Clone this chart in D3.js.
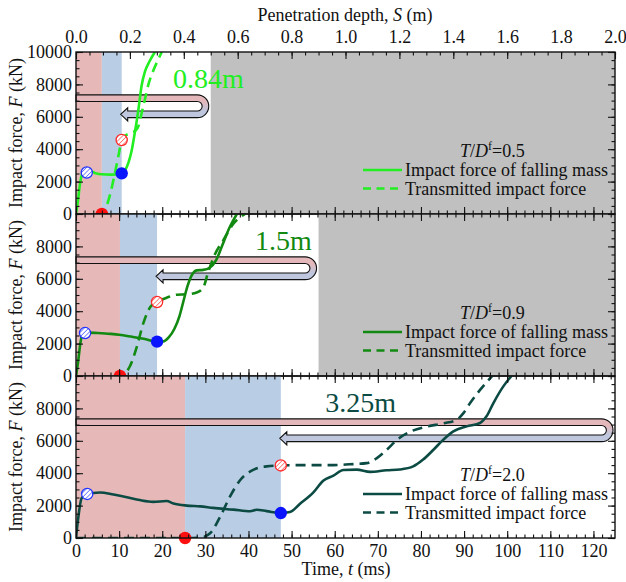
<!DOCTYPE html>
<html>
<head>
<meta charset="utf-8">
<script src="https://cdn.jsdelivr.net/npm/d3@7"></script>
<style>
  html, body { margin: 0; padding: 0; background: #fff; }
  svg { display: block; }
</style>
</head>
<body>
<svg id="chart" width="626" height="582"></svg>
<script>
// ---- data -------------------------------------------------------------
const ratioLabels = ["0.5", "0.9", "2.0"];          // T/D^f of each panel
const depthLabels = ["0.84m", "1.5m", "3.25m"];      // annotated penetration
const thickness = [0.5, 0.9, 2.0];                   // grey zone starts at S = T (m)
const redEnd = [6.0, 10.2, 25.3];                    // end of first phase (ms)
const blueEnd = [10.6, 18.8, 47.5];                  // end of second phase (ms)
const lineColors = ["#22ee22", "#128a12", "#0c4b43"];

const timeTicks = [0, 10, 20, 30, 40, 50, 60, 70, 80, 90, 100, 110, 120];
const depthTicks = [0.0, 0.2, 0.4, 0.6, 0.8, 1.0, 1.2, 1.4, 1.6, 1.8, 2.0];
const forceTicks = [0, 2000, 4000, 6000, 8000, 10000];

// impact force of falling mass, [t (ms), F (kN)]
const impact1 = [[0,0],[0.4,700],[0.9,1800],[1.4,2450],[2.2,2600],[3.2,2650],[4.5,2520],[6,2450],[8,2430],[9.5,2440],[10.6,2510],[11.4,2700],[12.2,3200],[12.9,3900],[13.5,4800],[14.0,5600],[14.5,6500],[15.2,7900],[16.0,8800],[17.0,9400],[18.3,10000]];
const impact2 = [[0,0],[0.5,900],[1.0,2000],[1.5,2600],[2.5,2680],[5,2650],[8,2600],[10,2550],[13,2420],[16,2280],[18.8,2120],[20.2,2130],[21.5,2380],[22.8,2900],[24,3700],[24.9,4600],[25.8,5500],[26.8,6200],[28,6520],[29.5,6550],[31,6680],[32.5,7150],[33.8,7980],[35.5,9100],[37.3,10000]];
const impact3 = [[0,0],[0.5,1200],[1.3,2460],[2.5,2680],[4,2780],[5.6,2810],[8.7,2680],[11.8,2520],[14.8,2340],[17.9,2230],[21,2280],[22.6,2130],[25.7,2000],[28.8,1950],[31.8,1860],[36.5,1750],[40.4,1650],[41.9,1740],[44.2,1660],[47.5,1540],[49.6,1600],[51.9,2100],[55,2800],[57.4,3550],[59.7,3850],[62,4200],[65.1,4220],[68.2,4080],[72,4180],[75.1,4230],[78.2,4420],[80.5,4840],[82.9,5450],[85.2,6070],[87.5,6580],[90.6,6890],[93.7,7100],[95.2,7510],[96.8,8330],[99.1,9360],[101,10000]];

// transmitted impact force, [t (ms), F (kN)]
const trans1 = [[5.0,0],[6.0,0],[6.8,300],[8.0,1300],[9.0,2500],[10.0,3800],[10.6,4570],[11.5,4850],[12.7,5000],[14.0,5200],[14.5,5450],[15.2,6200],[16.0,7100],[16.8,8000],[18.0,8900],[19.0,9500],[19.9,10000]];
const trans2 = [[8.8,0],[10.2,0],[11.3,150],[12.5,600],[14.1,1800],[15.6,3250],[17.2,4250],[18.8,4570],[21,4830],[23.4,5020],[25.7,5040],[28,5150],[29.5,5450],[30.7,6450],[32.2,7500],[34.2,8400],[36.5,9400],[39.2,10000]];
const trans3 = [[0,0],[10,0],[20,0],[25.7,0],[28.8,20],[31.1,290],[33.4,1300],[35.7,2550],[38,3550],[41.1,4200],[44.2,4420],[47.5,4480],[51.9,4500],[59.7,4500],[63.5,4550],[67.4,4620],[69.7,4920],[72,5430],[74.4,6050],[77.5,6560],[81.3,6870],[85.2,7080],[88.3,7300],[89.8,7690],[91.4,8330],[93.7,9140],[96.5,10000]];

// first peak of the impact force (open hatched blue marker)
const peaks = [[2.5, 2560], [2.1, 2650], [2.6, 2720]];
// transmitted force at end of second phase (hatched red marker)
const transAtBlue = [4570, 4570, 4480];
// impact force at end of second phase (filled blue marker)
const impactAtBlue = [2510, 2120, 1540];

const impacts = [impact1, impact2, impact3];
const transmitted = [trans1, trans2, trans3];

// ---- layout -----------------------------------------------------------
const svg = d3.select("#chart");
const left = 76, right = 615, top0 = 52, panelH = 162;
const FONT = 18;
const SERIF = "'Liberation Serif', 'Times New Roman', serif";

const x = d3.scaleLinear().domain([0, 125]).range([left, right]);
const xs = d3.scaleLinear().domain([0, 2.0]).range([left, right]);
// where each depth annotation starts (time, force)
const depthLabelAt = [[22.5, 7780], [41.5, 7780], [57.8, 7780]];

const defs = svg.append("defs");

function hatch(id, color) {
  const p = defs.append("pattern").attr("id", id)
    .attr("patternUnits", "userSpaceOnUse").attr("width", 3.2).attr("height", 3.2)
    .attr("patternTransform", "rotate(45)");
  p.append("rect").attr("width", 3.2).attr("height", 3.2).attr("fill", "#fff");
  p.append("line").attr("x1", 0).attr("y1", 0).attr("x2", 0).attr("y2", 3.2)
    .attr("stroke", color).attr("stroke-width", 1.1);
}
hatch("hatchBlue", "#2233ff");
hatch("hatchRed", "#ff2a2a");

const line = d3.line().x(d => x(d[0])).curve(d3.curveMonotoneX);

function label(sel, size) {
  return sel.append("text").style("font-family", SERIF).style("font-size", (size || FONT) + "px")
    .attr("fill", "#111");
}

ratioLabels.forEach((ratio, i) => {
  const pTop = top0 + i * panelH, pBot = pTop + panelH;
  const y = d3.scaleLinear().domain([0, 10000]).range([pBot, pTop]);
  line.y(d => y(d[1]));
  const col = lineColors[i];
  const g = svg.append("g");

  defs.append("clipPath").attr("id", "clip" + i)
    .append("rect").attr("x", left).attr("y", pTop).attr("width", right - left).attr("height", panelH);

  // phase backgrounds
  g.append("rect").attr("x", x(0)).attr("y", pTop).attr("width", x(redEnd[i]) - x(0)).attr("height", panelH).attr("fill", "#e6b9b8");
  g.append("rect").attr("x", x(redEnd[i])).attr("y", pTop).attr("width", x(blueEnd[i]) - x(redEnd[i])).attr("height", panelH).attr("fill", "#b9cde4");
  if (thickness[i] < 2.0) {
    g.append("rect").attr("x", xs(thickness[i])).attr("y", pTop).attr("width", right - xs(thickness[i])).attr("height", panelH).attr("fill", "#c0c0c0");
  }

  // U-shaped penetration arrow
  const gradId = "tube" + i;
  const yU = y(7150), yL = y(6150), h = 3.3;
  const r = (yL - yU) / 2, cy = (yU + yL) / 2;
  const xTurn = xs(thickness[i]) - 2;
  const cx = xTurn - (r + h);
  const xTip = x(blueEnd[i]) - 1, hl = 7, hh = 6.5;
  const grad = defs.append("linearGradient").attr("id", gradId)
    .attr("gradientUnits", "userSpaceOnUse").attr("x1", 0).attr("x2", 0)
    .attr("y1", yU - h).attr("y2", yL + h);
  grad.append("stop").attr("offset", 0).attr("stop-color", "#e4b7ba");
  grad.append("stop").attr("offset", 0.28).attr("stop-color", "#e4b7ba");
  grad.append("stop").attr("offset", 0.72).attr("stop-color", "#bec7dd");
  grad.append("stop").attr("offset", 1).attr("stop-color", "#bec7dd");
  const tube = d3.path();
  tube.moveTo(left, yU - h);
  tube.lineTo(cx, yU - h);
  tube.arc(cx, cy, r + h, -Math.PI / 2, Math.PI / 2, false);
  tube.lineTo(xTip + hl, yL + h);
  tube.lineTo(xTip + hl, yL + hh);
  tube.lineTo(xTip, yL);
  tube.lineTo(xTip + hl, yL - hh);
  tube.lineTo(xTip + hl, yL - h);
  tube.lineTo(cx, yL - h);
  tube.arc(cx, cy, r - h, Math.PI / 2, -Math.PI / 2, true);
  tube.lineTo(left, yU + h);
  tube.closePath();
  g.append("path").attr("d", tube.toString()).attr("fill", `url(#${gradId})`)
    .attr("stroke", "#111").attr("stroke-width", 1.1);

  // curves
  const cg = g.append("g").attr("clip-path", `url(#clip${i})`);
  cg.append("path").attr("d", line(impacts[i])).attr("fill", "none")
    .attr("stroke", col).attr("stroke-width", 2.6).attr("stroke-linejoin", "round");
  cg.append("path").attr("d", line(transmitted[i])).attr("fill", "none")
    .attr("stroke", col).attr("stroke-width", 2.6).attr("stroke-dasharray", "10,6");

  // depth label
  label(g, 28).attr("x", x(depthLabelAt[i][0])).attr("y", y(depthLabelAt[i][1]))
    .attr("fill", col).text(depthLabels[i]);

  // markers
  g.append("circle").attr("cx", x(peaks[i][0])).attr("cy", y(peaks[i][1])).attr("r", 5.6)
    .attr("fill", "url(#hatchBlue)").attr("stroke", "#2233ff").attr("stroke-width", 1.3);
  g.append("circle").attr("cx", x(blueEnd[i])).attr("cy", y(transAtBlue[i])).attr("r", 5.6)
    .attr("fill", "url(#hatchRed)").attr("stroke", "#ff2a2a").attr("stroke-width", 1.3);
  g.append("circle").attr("cx", x(blueEnd[i])).attr("cy", y(impactAtBlue[i])).attr("r", 6.2)
    .attr("fill", "#0a14ff");
  g.append("circle").attr("cx", x(redEnd[i])).attr("cy", y(0)).attr("r", 6.2)
    .attr("fill", "#ff1010");

  // legend
  const lg = g.append("g");
  const tl = label(lg).attr("x", 460).attr("y", pTop + 105);
  tl.append("tspan").style("font-style", "italic").text("T");
  tl.append("tspan").text("/");
  tl.append("tspan").style("font-style", "italic").text("D");
  tl.append("tspan").style("font-size", "12px").attr("dy", -7).text("f");
  tl.append("tspan").attr("dy", 7).text("=" + ratio);
  lg.append("line").attr("x1", 363).attr("x2", 402).attr("y1", pTop + 118).attr("y2", pTop + 118)
    .attr("stroke", col).attr("stroke-width", 2.6);
  lg.append("line").attr("x1", 363).attr("x2", 402).attr("y1", pTop + 136.5).attr("y2", pTop + 136.5)
    .attr("stroke", col).attr("stroke-width", 2.6).attr("stroke-dasharray", "8,5.5");
  label(lg).attr("x", 405).attr("y", pTop + 124).text("Impact force of falling mass");
  label(lg).attr("x", 405).attr("y", pTop + 142.5).text("Transmitted impact force");

  // axes (ticks pointing inward)
  const minorF = d3.range(0, 10001, 500);
  const minorT = d3.range(0, 125.01, 2);
  function styleAxis(sel) {
    sel.select(".domain").remove();
    sel.attr("font-family", null).attr("font-size", null);
    sel.selectAll("line").attr("stroke", "#111").attr("stroke-width", 1.1);
    sel.selectAll("text").attr("fill", "#111")
      .style("font-family", SERIF).style("font-size", FONT + "px");
  }
  svg.append("g").attr("transform", `translate(${left},0)`)
    .call(d3.axisLeft(y).tickValues(minorF).tickSize(-3.5).tickFormat("")).call(styleAxis);
  svg.append("g").attr("transform", `translate(${left},0)`)
    .call(d3.axisLeft(y).tickValues(forceTicks).tickSize(-7).tickPadding(4)
      .tickFormat(d => (i > 0 && d === 10000) ? "" : d3.format("d")(d))).call(styleAxis);
  svg.append("g").attr("transform", `translate(${right},0)`)
    .call(d3.axisRight(y).tickValues(minorF).tickSize(-3.5).tickFormat("")).call(styleAxis);
  svg.append("g").attr("transform", `translate(${right},0)`)
    .call(d3.axisRight(y).tickValues(forceTicks).tickSize(-7).tickFormat("")).call(styleAxis);

  // bottom time ticks
  svg.append("g").attr("transform", `translate(0,${pBot})`)
    .call(d3.axisBottom(x).tickValues(minorT).tickSize(-3.5).tickFormat("")).call(styleAxis);
  svg.append("g").attr("transform", `translate(0,${pBot})`)
    .call(d3.axisBottom(x).tickValues(timeTicks).tickSize(-7).tickPadding(6)
      .tickFormat(i === 2 ? d3.format("d") : "")).call(styleAxis);

  if (i === 0) {
    const minorS = d3.range(0, 2.001, 0.05);
    svg.append("g").attr("transform", `translate(0,${pTop})`)
      .call(d3.axisTop(xs).tickValues(minorS).tickSize(-3.5).tickFormat("")).call(styleAxis);
    svg.append("g").attr("transform", `translate(0,${pTop})`)
      .call(d3.axisTop(xs).tickValues(depthTicks).tickSize(-7).tickPadding(9)
        .tickFormat(d3.format(".1f"))).call(styleAxis);
  } else {
    svg.append("g").attr("transform", `translate(0,${pTop})`)
      .call(d3.axisTop(x).tickValues(minorT).tickSize(-3.5).tickFormat("")).call(styleAxis);
    svg.append("g").attr("transform", `translate(0,${pTop})`)
      .call(d3.axisTop(x).tickValues(timeTicks).tickSize(-7).tickFormat("")).call(styleAxis);
  }

  // frame
  svg.append("rect").attr("x", left).attr("y", pTop).attr("width", right - left).attr("height", panelH)
    .attr("fill", "none").attr("stroke", "#111").attr("stroke-width", 1.4);

  // y title
  const yt = label(svg).attr("transform", `translate(22,${pTop + panelH / 2}) rotate(-90)`)
    .attr("text-anchor", "middle");
  yt.append("tspan").text("Impact force, ");
  yt.append("tspan").style("font-style", "italic").text("F");
  yt.append("tspan").text(" (kN)");
});

// axis titles
const tt = label(svg).attr("x", 345).attr("y", 21).attr("text-anchor", "middle");
tt.append("tspan").text("Penetration depth, ");
tt.append("tspan").style("font-style", "italic").text("S");
tt.append("tspan").text(" (m)");

const bt = label(svg).attr("x", 346).attr("y", 575).attr("text-anchor", "middle");
bt.append("tspan").text("Time, ");
bt.append("tspan").style("font-style", "italic").text("t");
bt.append("tspan").text(" (ms)");
</script>
</body>
</html>
